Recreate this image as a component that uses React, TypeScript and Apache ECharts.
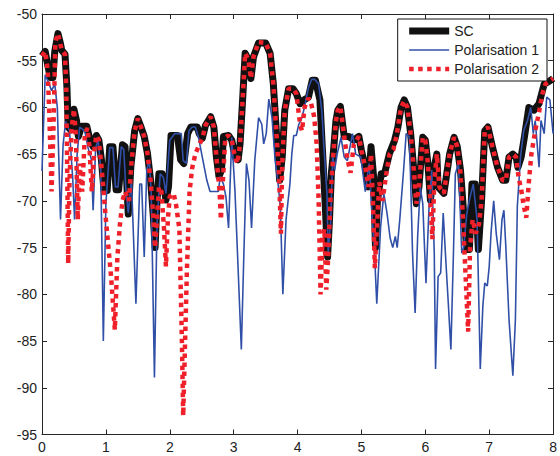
import React, { useEffect, useRef } from "react";
import * as echarts from "echarts";

const X_MIN = 0;
const X_MAX = 8;
const Y_MIN = -95;
const Y_MAX = -50;

const seriesNames = ["SC", "Polarisation 1", "Polarisation 2"];

const scPoints: [number, number][] = [
  [0, -54.5], [0.05, -54], [0.09, -55.5], [0.13, -56.8], [0.17, -56.8], [0.2, -54], [0.25, -52.1], [0.29, -53.2],
  [0.31, -53.9], [0.36, -54.3], [0.39, -57.8], [0.41, -62.1], [0.45, -62.4], [0.5, -60.2], [0.54, -61.4], [0.57, -63.1],
  [0.62, -62], [0.7, -62], [0.75, -63.5], [0.8, -64.2], [0.85, -63], [0.89, -63.5], [0.93, -65.6], [0.97, -68.9],
  [1.02, -68.9], [1.06, -64.2], [1.11, -64.2], [1.16, -68.8], [1.2, -68.8], [1.26, -64], [1.3, -64.2], [1.35, -71.4],
  [1.39, -66.4], [1.45, -62.5], [1.5, -61.2], [1.55, -62.1], [1.6, -63.1], [1.65, -64.9], [1.7, -67.8], [1.74, -71.4],
  [1.77, -75], [1.8, -70], [1.83, -67.1], [1.88, -67.1], [1.94, -69.9], [1.98, -68.5], [2.02, -63], [2.12, -63],
  [2.17, -65.6], [2.22, -66], [2.28, -62.8], [2.33, -62.1], [2.43, -62.1], [2.46, -62.8], [2.51, -63.3], [2.56, -61.9],
  [2.64, -61], [2.69, -62.1], [2.73, -65.3], [2.77, -67.4], [2.81, -66.7], [2.84, -63.1], [2.92, -63], [2.97, -63.5],
  [3.02, -65.3], [3.07, -65.6], [3.1, -63.9], [3.14, -59.2], [3.18, -54.2], [3.23, -54.9], [3.27, -56.9], [3.31, -54.6],
  [3.39, -53.1], [3.5, -53.1], [3.57, -54.2], [3.62, -57.4], [3.67, -62.8], [3.72, -67.8], [3.76, -65.3], [3.8, -60.3],
  [3.86, -58], [3.93, -58], [3.98, -58.5], [4.04, -59.6], [4.1, -59.2], [4.17, -58.9], [4.23, -57.1], [4.28, -57.1],
  [4.35, -59.2], [4.39, -64.6], [4.43, -70], [4.47, -76], [4.5, -72], [4.53, -67], [4.56, -64.9], [4.6, -61.5],
  [4.63, -60.3], [4.67, -59.9], [4.73, -63.1], [4.8, -63.1], [4.88, -63.5], [4.96, -63.1], [5.0, -64.6], [5.06, -66.4],
  [5.11, -68.5], [5.15, -64.2], [5.19, -67.4], [5.22, -75], [5.25, -70], [5.31, -67.1], [5.36, -67.1], [5.44, -64.9],
  [5.52, -63.5], [5.57, -62.1], [5.62, -60], [5.67, -59.2], [5.72, -60], [5.77, -62.8], [5.82, -66.7], [5.86, -70.3],
  [5.9, -68.5], [5.96, -63.2], [6.0, -63.5], [6.04, -66], [6.08, -69.9], [6.13, -66.7], [6.18, -65], [6.2, -68.5],
  [6.29, -69.2], [6.38, -65], [6.45, -63.2], [6.5, -64.2], [6.55, -66.7], [6.6, -71.3], [6.65, -75.2], [6.69, -75.2],
  [6.73, -68.2], [6.78, -68.2], [6.83, -75.2], [6.88, -70], [6.93, -62.5], [6.98, -62.1], [7.05, -64.2], [7.13, -66.4],
  [7.21, -67.8], [7.26, -67.8], [7.31, -65.3], [7.37, -65], [7.42, -65.3], [7.45, -66.4], [7.5, -65.3], [7.55, -63.2],
  [7.62, -60], [7.7, -60.3], [7.78, -59.6], [7.86, -57.5], [7.94, -57.2], [8.0, -56.9],
];

const pol1Points: [number, number][] = [
  [0, -66.8], [0.05, -56.5], [0.1, -57.3], [0.15, -58.2], [0.2, -57.5], [0.24, -60], [0.29, -72], [0.33, -64],
  [0.37, -61.5], [0.43, -62.5], [0.48, -67.5], [0.51, -72], [0.55, -65], [0.59, -62.1], [0.67, -62.5], [0.72, -64.3],
  [0.77, -65.5], [0.8, -71], [0.84, -64.3], [0.88, -63.5], [0.92, -66.7], [0.96, -85], [1.0, -70.3], [1.06, -64.3],
  [1.11, -64.3], [1.15, -68.5], [1.19, -68.5], [1.24, -64.2], [1.28, -64.5], [1.31, -68.5], [1.35, -71.3], [1.4, -67.8],
  [1.47, -81], [1.53, -68.2], [1.56, -68.2], [1.6, -76], [1.64, -66.7], [1.68, -65.7], [1.71, -69.2], [1.76, -88.9],
  [1.8, -72.5], [1.85, -67.1], [1.9, -67.5], [1.94, -69.2], [2.0, -63.5], [2.08, -62.8], [2.18, -62.8], [2.21, -65.7],
  [2.26, -66], [2.3, -62.5], [2.35, -62.1], [2.4, -62.1], [2.45, -63.2], [2.5, -65], [2.58, -67.8], [2.63, -69],
  [2.76, -69], [2.79, -67.4], [2.84, -68.2], [2.88, -69.6], [2.92, -72.9], [2.97, -63.2], [3.02, -68.9], [3.06, -75.6],
  [3.12, -85.9], [3.16, -75.6], [3.2, -66], [3.24, -67.8], [3.28, -72.9], [3.33, -65.7], [3.39, -61.1], [3.44, -61.8],
  [3.47, -63.9], [3.51, -62.8], [3.55, -59.1], [3.6, -61.1], [3.65, -65.7], [3.69, -67.8], [3.73, -70.6], [3.77, -80],
  [3.82, -72], [3.88, -68.2], [3.91, -65], [3.94, -63], [3.98, -63], [4.02, -61.8], [4.07, -61.1], [4.12, -59.6],
  [4.17, -57.9], [4.22, -57], [4.27, -57], [4.33, -57.5], [4.38, -60.4], [4.42, -65], [4.46, -69.2], [4.48, -75.6],
  [4.52, -72], [4.55, -65], [4.58, -66.7], [4.62, -65], [4.68, -63.2], [4.73, -65.3], [4.78, -65.7], [4.86, -62.8],
  [4.91, -65], [4.99, -65.3], [5.06, -69], [5.12, -66], [5.17, -72], [5.2, -74.9], [5.24, -81], [5.3, -72.8],
  [5.35, -69.2], [5.4, -71.3], [5.45, -74], [5.49, -75], [5.53, -73.8], [5.56, -75], [5.6, -72], [5.66, -66.7],
  [5.7, -62.8], [5.75, -63.2], [5.77, -67.8], [5.8, -75.6], [5.84, -82], [5.88, -73.8], [5.92, -68.5], [5.96, -70.3],
  [6.01, -78.8], [6.06, -70.3], [6.1, -66.7], [6.14, -75.6], [6.16, -88], [6.2, -78.1], [6.24, -77.7], [6.28, -71.3],
  [6.32, -76.3], [6.36, -81], [6.4, -85.9], [6.44, -75.6], [6.47, -67.1], [6.52, -66], [6.57, -75.6], [6.6, -75],
  [6.65, -71.3], [6.7, -69.6], [6.75, -68.2], [6.81, -72], [6.86, -88], [6.9, -81.3], [6.93, -78.8], [6.97, -79.1],
  [7.0, -77], [7.03, -73.3], [7.07, -70], [7.11, -73.5], [7.16, -76.3], [7.2, -72], [7.23, -71], [7.26, -74.9],
  [7.31, -82.7], [7.37, -88.7], [7.41, -82.7], [7.44, -70.6], [7.49, -65.3], [7.54, -62.5], [7.6, -61.4], [7.65, -60],
  [7.69, -62.8], [7.72, -61.4], [7.78, -66.4], [7.81, -61.4], [7.86, -62.8], [7.9, -58.9], [7.95, -59.2], [8.0, -62.8],
];

const pol2Points: [number, number][] = [
  [0, -54.5], [0.05, -54], [0.09, -56], [0.12, -62], [0.15, -69], [0.18, -62], [0.21, -53], [0.25, -52.1],
  [0.31, -53.9], [0.36, -54.3], [0.38, -58], [0.4, -70], [0.41, -76.7], [0.43, -68], [0.46, -62.5], [0.5, -60.2],
  [0.53, -63], [0.56, -72], [0.59, -66], [0.63, -69], [0.67, -63], [0.71, -62.2], [0.74, -64], [0.78, -69],
  [0.82, -64.5], [0.85, -63], [0.89, -63.5], [0.94, -67], [1.0, -72], [1.08, -78], [1.14, -83.8], [1.18, -76],
  [1.22, -72.5], [1.26, -70], [1.3, -69], [1.36, -70], [1.4, -66], [1.45, -62.5], [1.5, -61.2], [1.55, -62.1],
  [1.6, -63.1], [1.65, -64.9], [1.7, -67.8], [1.74, -71.4], [1.77, -75], [1.8, -72], [1.83, -68.5], [1.87, -69],
  [1.91, -73], [1.94, -77], [1.97, -72], [2.0, -69.5], [2.06, -69.2], [2.1, -70.5], [2.15, -73], [2.19, -85],
  [2.21, -93], [2.24, -85], [2.27, -77], [2.31, -69], [2.35, -66.5], [2.4, -65], [2.46, -64], [2.51, -63.3],
  [2.56, -61.9], [2.64, -61], [2.69, -62.1], [2.73, -65.3], [2.78, -69], [2.8, -72], [2.83, -68], [2.87, -63.2],
  [2.92, -63], [2.97, -63.5], [3.02, -65.3], [3.06, -66], [3.1, -63.9], [3.14, -59.2], [3.18, -54.2], [3.23, -54.9],
  [3.27, -56.9], [3.31, -54.6], [3.39, -53], [3.5, -53.1], [3.57, -54.2], [3.62, -57.4], [3.67, -62.8], [3.71, -67],
  [3.74, -73.5], [3.76, -66], [3.8, -60.3], [3.86, -58], [3.93, -58], [3.98, -58.5], [4.04, -61.8], [4.07, -62.5],
  [4.11, -60], [4.17, -59], [4.21, -59.5], [4.26, -61], [4.3, -64], [4.33, -70], [4.36, -80], [4.39, -74],
  [4.42, -73], [4.45, -79.5], [4.48, -76], [4.52, -69], [4.56, -65], [4.6, -61.5], [4.63, -60.3], [4.67, -59.9],
  [4.73, -63.1], [4.78, -65.5], [4.83, -67], [4.88, -64], [4.96, -63.1], [5.0, -64.6], [5.06, -66.4], [5.11, -68.5],
  [5.15, -65], [5.18, -70], [5.21, -77.2], [5.24, -73], [5.28, -68], [5.33, -70], [5.38, -67.5], [5.44, -65],
  [5.5, -64.5], [5.55, -63], [5.62, -60], [5.67, -59.3], [5.72, -60], [5.77, -62.8], [5.82, -66.7], [5.86, -70.3],
  [5.9, -68.5], [5.96, -63.2], [6.0, -63.5], [6.04, -66], [6.08, -70], [6.11, -74.1], [6.14, -68], [6.18, -65],
  [6.22, -68.5], [6.29, -69.2], [6.38, -65], [6.45, -63.2], [6.5, -64.2], [6.55, -67], [6.59, -72], [6.63, -78],
  [6.67, -84], [6.7, -75], [6.74, -72], [6.79, -73.5], [6.84, -72.5], [6.88, -70], [6.93, -62.5], [6.98, -62.1],
  [7.05, -64.2], [7.13, -66.4], [7.21, -67.8], [7.26, -67.8], [7.31, -65.3], [7.37, -65], [7.42, -65.3], [7.46, -67.5],
  [7.5, -68.8], [7.54, -70.5], [7.58, -71.8], [7.62, -68], [7.66, -65], [7.72, -62.5], [7.78, -60.5], [7.83, -58.6],
  [7.88, -57.5], [7.94, -57.2], [8.0, -56.9],
];

const FONT = "'Liberation Sans', Arial, Helvetica, sans-serif";
const AXIS_COLOR = "#262626";
const SC_COLOR = "#111111";
const P1_COLOR = "#3050a8";
const P2_COLOR = "#f0202a";

export default function App() {
  const ref = useRef<HTMLDivElement>(null);

  useEffect(() => {
    document.body.style.margin = "0";
    if (!ref.current) return;
    const chart = echarts.init(ref.current, undefined, { renderer: "svg" });

    const axisCommon = {
      type: "value" as const,
      splitLine: { show: false },
      axisLine: { show: true, onZero: false, lineStyle: { color: AXIS_COLOR, width: 1 } },
      axisTick: { show: true, inside: true, length: 5, lineStyle: { color: AXIS_COLOR, width: 1 } },
    };

    chart.setOption({
      animation: false,
      backgroundColor: "#ffffff",
      grid: { left: 42, right: 4, top: 14, bottom: 21.5, containLabel: false },
      legend: {
        data: [
          { name: seriesNames[0], lineStyle: { width: 7, color: SC_COLOR, type: "solid" } },
          { name: seriesNames[1], lineStyle: { width: 1.6, color: P1_COLOR, type: "solid" } },
          { name: seriesNames[2], lineStyle: { width: 4.5, color: P2_COLOR, type: [4.5, 4.5], cap: "butt" } },
        ],
        orient: "vertical",
        align: "left",
        right: 13,
        top: 19,
        padding: [5, 8, 5, 8],
        itemGap: 5,
        itemWidth: 40,
        itemHeight: 14,
        borderColor: "#111",
        borderWidth: 1,
        backgroundColor: "#ffffff",
        itemStyle: { opacity: 0, borderWidth: 0 },
        textStyle: { fontFamily: FONT, fontSize: 14, color: "#222" },
      },
      xAxis: [
        {
          ...axisCommon,
          position: "bottom",
          min: X_MIN,
          max: X_MAX,
          interval: 1,
          axisLabel: { fontFamily: FONT, fontSize: 14, color: "#222", margin: 5 },
        },
        {
          ...axisCommon,
          position: "top",
          min: X_MIN,
          max: X_MAX,
          interval: 1,
          axisLabel: { show: false },
        },
      ],
      yAxis: [
        {
          ...axisCommon,
          position: "left",
          min: Y_MIN,
          max: Y_MAX,
          interval: 5,
          axisLabel: { fontFamily: FONT, fontSize: 14, color: "#222", margin: 5 },
        },
        {
          ...axisCommon,
          position: "right",
          min: Y_MIN,
          max: Y_MAX,
          interval: 5,
          axisLabel: { show: false },
        },
      ],
      series: [
        {
          name: seriesNames[0],
          type: "line",
          data: scPoints,
          symbol: "none",
          lineStyle: { color: SC_COLOR, width: 7, join: "round" },
          itemStyle: { color: SC_COLOR },
          z: 2,
        },
        {
          name: seriesNames[1],
          type: "line",
          data: pol1Points,
          symbol: "none",
          lineStyle: { color: P1_COLOR, width: 1.6 },
          itemStyle: { color: P1_COLOR },
          z: 3,
        },
        {
          name: seriesNames[2],
          type: "line",
          data: pol2Points,
          symbol: "none",
          lineStyle: { color: P2_COLOR, width: 4.5, type: [4.5, 4.5], cap: "butt" },
          itemStyle: { color: P2_COLOR },
          z: 4,
        },
      ],
    });

    return () => chart.dispose();
  }, []);

  return <div ref={ref} style={{ width: 560, height: 456 }} />;
}
